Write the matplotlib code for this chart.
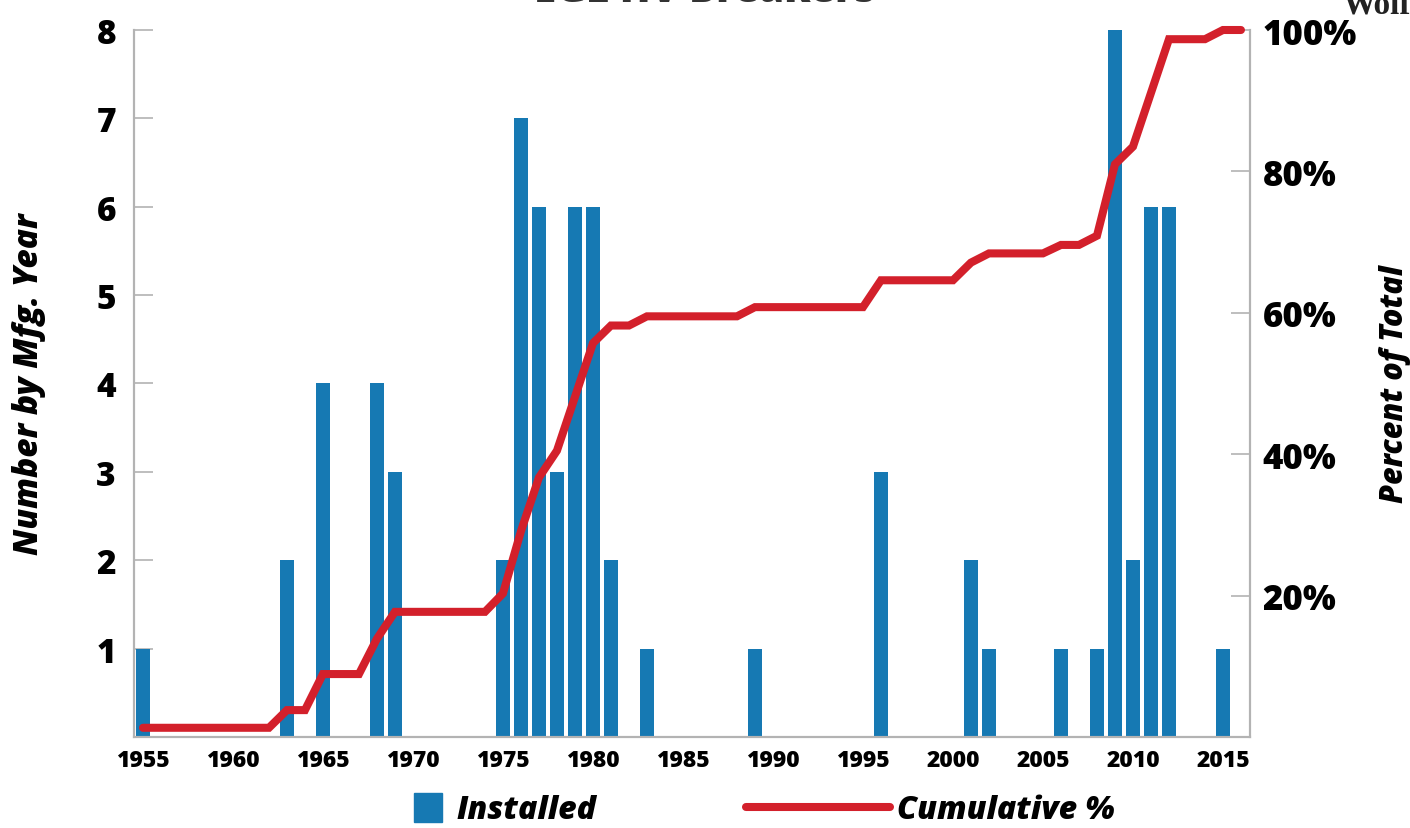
import matplotlib.pyplot as plt
from matplotlib.patches import Patch
from matplotlib.lines import Line2D

# Breakers installed per manufacturing year
bar_years = [1955, 1963, 1965, 1968, 1969, 1975, 1976, 1977, 1978, 1979, 1980,
             1981, 1983, 1989, 1996, 2001, 2002, 2006, 2008, 2009, 2010, 2011,
             2012, 2015]
installed = [1, 2, 4, 4, 3, 2, 7, 6, 3, 6, 6, 2, 1, 1, 3, 2, 1, 1, 1, 8, 2, 6,
             6, 1]

# Cumulative share of the fleet, one value per year 1955-2016
line_years = list(range(1955, 2017))
cumulative_pct = [
    1.3, 1.3, 1.3, 1.3, 1.3, 1.3, 1.3, 1.3,          # 1955-1962
    3.8, 3.8, 8.9, 8.9, 8.9, 13.9, 17.7,             # 1963-1969
    17.7, 17.7, 17.7, 17.7, 17.7,                    # 1970-1974
    20.3, 29.1, 36.7, 40.5, 48.1, 55.7, 58.2, 58.2,  # 1975-1982
    59.5, 59.5, 59.5, 59.5, 59.5, 59.5,              # 1983-1988
    60.8, 60.8, 60.8, 60.8, 60.8, 60.8, 60.8,        # 1989-1995
    64.6, 64.6, 64.6, 64.6, 64.6,                    # 1996-2000
    67.1, 68.4, 68.4, 68.4, 68.4, 69.6, 69.6, 70.9,  # 2001-2008
    81.0, 83.5, 91.1, 98.7, 98.7, 98.7, 100.0, 100.0 # 2009-2016
]

x_ticks = list(range(1955, 2016, 5))
left_ticks = [1, 2, 3, 4, 5, 6, 7, 8]
right_ticks = [20, 40, 60, 80, 100]

BLUE = "#1679b3"
RED = "#d3202b"
GREY = "#b3b3b3"
SANS = ["Open Sans", "DejaVu Sans"]

fig = plt.figure(figsize=(14.1, 8.29), dpi=100)
ax = fig.add_axes([0.095, 0.1098, 0.7915, 0.8528])
ax2 = ax.twinx()

ax.bar(bar_years, installed, width=0.78, color=BLUE, zorder=2)
ax2.plot(line_years, cumulative_pct, color=RED, lw=5.8,
         solid_joinstyle="miter", solid_capstyle="round", clip_on=False, zorder=3)

ax.set_xlim(1954.5, 2016.5)
ax.set_ylim(0, 8)
ax2.set_ylim(0, 100)

for a in (ax, ax2):
    a.spines["top"].set_visible(False)
    for s in ("left", "right", "bottom"):
        a.spines[s].set_color(GREY)
        a.spines[s].set_linewidth(1.5)

ax.set_xticks(x_ticks)
ax.set_xticklabels([str(y) for y in x_ticks], family=SANS,
                   fontweight="heavy", fontsize=16.5)
ax.tick_params(axis="x", length=0, pad=8)

ax.set_yticks(left_ticks)
ax.set_yticklabels([str(v) for v in left_ticks], family=SANS,
                   fontweight="heavy", fontsize=24)
ax.tick_params(axis="y", direction="in", length=13.5, width=1.2,
               color=GREY, pad=13)

ax2.set_yticks(right_ticks)
ax2.set_yticklabels([f"{v}%" for v in right_ticks], family=SANS,
                    fontweight="heavy", fontsize=25)
ax2.tick_params(axis="y", direction="in", length=13.5, width=1.2,
                color=GREY, pad=9)

ax.set_ylabel("Number by Mfg. Year", family=SANS, fontweight="heavy",
              style="italic", fontsize=24, labelpad=36)
ax2.set_ylabel("Percent of Total", family=SANS, fontweight="heavy",
               style="italic", fontsize=22, labelpad=16)

# Legend: square key for the bars, long key for the line
legend_font = {"family": SANS, "weight": "heavy", "style": "italic",
               "size": 23}
fig.legend(handles=[Patch(color=BLUE, label="Installed")],
           loc="center left", bbox_to_anchor=(0.273, 0.022),
           frameon=False, handlelength=0.9, handleheight=1.0,
           handletextpad=0.45, prop=legend_font)
fig.legend(handles=[Line2D([], [], color=RED, lw=5.8, solid_capstyle="round",
                           label="Cumulative %")],
           loc="center left", bbox_to_anchor=(0.509, 0.022),
           frameon=False, handlelength=4.5, handletextpad=0.2,
           prop=legend_font)

fig.text(0.5, 1 - 2 / 829, "EGL HV Breakers", ha="center", va="baseline",
         family=SANS, fontweight="heavy", fontsize=29, color="#333333")
fig.text(0.952, 1 - 13 / 829, "Wolfe", ha="left", va="baseline",
         family=["Liberation Serif", "DejaVu Serif"], fontweight="bold",
         fontsize=24, color="#222222")

fig.savefig("out.png", dpi=100)
